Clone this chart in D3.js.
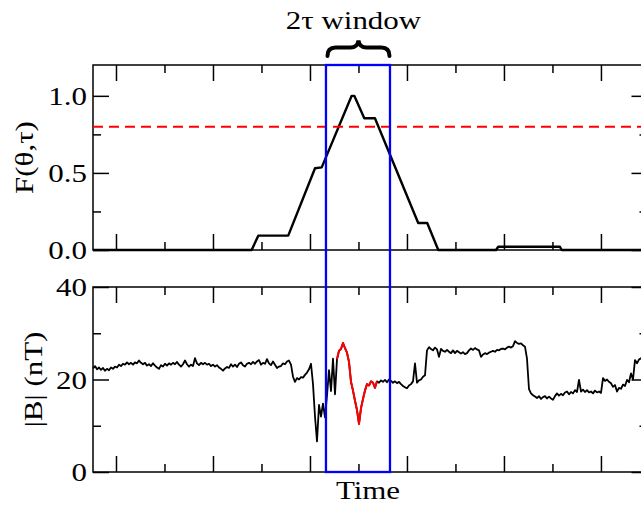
<!DOCTYPE html>
<html><head><meta charset="utf-8">
<script src="https://cdn.jsdelivr.net/npm/d3@7"></script>
<style>body{margin:0;background:#fff} svg{display:block}</style>
</head><body><svg id="c" width="641" height="507"></svg>
<script>
// ---------------- DATA ----------------
const timeDomain = [-0.237, 5.48];           // hours (arbitrary origin)
const timeTicks = [0, 1, 2, 3, 4, 5];
const timeMinorTicks = [0.5, 1.5, 2.5, 3.5, 4.5];

const fTicks = [0, 0.5, 1.0];
const fMinorTicks = [0.25, 0.75];
const fDomain = [0, 1.2];
const bTicks = [0, 20, 40];
const bMinorTicks = [10, 30];
const bDomain = [0, 40];

const fTime  = [-0.237, 1.399, 1.467, 1.776, 2.052, 2.121, 2.430, 2.457, 2.560, 2.670, 3.116, 3.209, 3.323, 3.918, 3.941, 4.577, 4.595, 5.48];
const fValue = [0, 0, 0.093, 0.093, 0.53, 0.536, 1.0, 1.0, 0.855, 0.855, 0.175, 0.175, 0, 0, 0.021, 0.021, 0, 0];

const threshold = 0.8;
const windowCenter = 2.495;
const tau = 0.33;
const redRange = [2.27, 2.70];

const bStart = -0.237;   // time of first |B| sample
const bStep = 0.02062;   // sampling interval
const bValue = [
 22.4,22.9,22.2,22.6,22.1,22.5,21.9,22.3,22.0,22.6,
 22.3,22.8,22.6,23.2,22.9,23.4,23.2,23.7,23.3,23.6,
 23.2,23.7,23.5,24.1,23.6,23.3,23.6,23.0,23.3,22.9,
 23.5,23.0,22.6,22.3,23.1,22.8,23.4,23.0,23.5,23.2,
 23.6,23.3,23.8,23.2,22.8,23.3,24.1,23.3,22.8,23.2,
 22.9,24.6,23.5,23.1,23.6,23.3,23.6,23.2,23.4,22.9,
 23.2,22.8,23.1,22.6,22.3,21.9,22.4,22.7,22.5,23.3,
 22.8,23.2,22.7,23.4,23.7,23.1,22.8,23.4,23.6,23.3,
 23.8,23.4,23.9,24.2,23.2,23.6,23.4,24.4,23.5,23.1,
 23.9,23.2,22.5,22.8,
 22.9,23.5,23.3,23.9,24.1,23.2,20.6,19.5,20.3,20.0,
 20.5,20.4,21.0,21.5,22.2,23.4,
 19.0,12.0,6.6,14.5,12.0,14.8,11.8,16.5,22.0,17.5,24.5,16.8,24.4,
 26.2,26.6,27.9,26.8,25.8,23.8,19.5,17.6,15.4,13.4,10.4,
 13.8,15.8,17.6,19.0,18.7,19.6,19.3,18.2,19.6,
 19.3,19.8,19.5,19.9,19.4,20.0,19.7,19.3,19.6,19.2,
 19.5,19.0,18.6,18.3,18.1,18.7,19.0,19.6,23.5,19.3,
 19.8,20.0,20.6,20.9,26.3,27.0,26.6,26.3,26.9,26.5,
 24.9,26.6,26.2,26.0,26.4,26.0,25.7,26.3,25.7,26.2,
 25.9,25.6,25.9,25.5,25.7,26.3,26.7,26.4,26.8,26.5,
 26.3,24.9,25.4,25.7,25.5,25.8,26.0,26.2,26.0,26.4,
 26.3,26.6,26.7,26.5,26.9,27.1,26.9,27.2,28.3,27.9,
 27.7,27.8,27.4,27.1,
 24.5,17.9,17.0,16.6,16.3,16.0,
 16.4,15.8,16.2,16.4,15.9,16.3,15.9,15.6,16.4,17.0,
 16.5,16.9,16.6,17.2,17.4,16.8,17.3,17.0,17.7,17.3,
 19.9,17.4,17.8,17.3,17.7,17.2,17.4,17.0,17.6,17.2,
 17.4,17.1,
 20.3,19.7,20.0,19.5,19.2,18.4,18.8,17.4,
 18.2,18.0,18.9,18.6,19.9,19.4,21.3,20.0,24.2,23.5,
 24.3,24.6,24.0,24.4,24.2
];

const labels = { title: "2\u03c4 window", fAxis: "F(\u03b8,\u03c4)", bAxis: "|B| (nT)", xAxis: "Time" };

// ---------------- CHART ----------------
const svg = d3.select("#c");
const FONT = "'Liberation Serif','Times New Roman',Times,serif";
const FS = 26, SX = 1.19;
const L = 93, R = 647.5;
const top1 = 65, bot1 = 250, top2 = 287, bot2 = 472;

const x = d3.scaleLinear().domain(timeDomain).range([L, R]);
const yF = d3.scaleLinear().domain(fDomain).range([bot1, top1]);
const yB = d3.scaleLinear().domain(bDomain).range([bot2, top2]);

const bData = bValue.map((v, i) => ({ t: bStart + i * bStep, v }));

function frame(yTop, yBot, yScale, ticks, minor, fmt) {
  const g = svg.append("g");
  const mk = (axis, tx, ty) => {
    const a = g.append("g").attr("transform", `translate(${tx},${ty})`).call(axis);
    a.select(".domain").remove();
    a.selectAll(".tick line").attr("stroke", "#000").attr("stroke-width", 1.5);
    return a;
  };
  mk(d3.axisBottom(x).tickValues(timeTicks).tickSize(-16).tickFormat(""), 0, yBot);
  mk(d3.axisBottom(x).tickValues(timeMinorTicks).tickSize(-8).tickFormat(""), 0, yBot);
  mk(d3.axisTop(x).tickValues(timeTicks).tickSize(-16).tickFormat(""), 0, yTop);
  mk(d3.axisTop(x).tickValues(timeMinorTicks).tickSize(-8).tickFormat(""), 0, yTop);
  mk(d3.axisRight(yScale).tickValues(ticks).tickSize(-16).tickFormat(""), R, 0);
  mk(d3.axisRight(yScale).tickValues(minor).tickSize(-8).tickFormat(""), R, 0);
  mk(d3.axisLeft(yScale).tickValues(minor).tickSize(-8).tickFormat(""), L, 0);
  const la = mk(d3.axisLeft(yScale).tickValues(ticks).tickSize(-16).tickPadding(6).tickFormat(fmt), L, 0);
  la.selectAll(".tick text")
    .attr("font-family", FONT).attr("font-size", FS).attr("fill", "#000")
    .attr("x", -6 / SX).attr("dy", "0.34em")
    .attr("transform", `scale(${SX},1)`);
  g.append("rect").attr("x", L).attr("y", yTop).attr("width", R - L).attr("height", yBot - yTop)
    .attr("fill", "none").attr("stroke", "#000").attr("stroke-width", 1.5);
}

frame(top1, bot1, yF, fTicks, fMinorTicks, d3.format(".1f"));
frame(top2, bot2, yB, bTicks, bMinorTicks, d3.format("d"));

// bottom: |B|
const lineB = d3.line().x(d => x(d.t)).y(d => yB(d.v));
svg.append("path").datum(bData).attr("d", lineB)
  .attr("fill", "none").attr("stroke", "#000").attr("stroke-width", 1.8).attr("stroke-linejoin", "round");
svg.append("path").datum(bData.filter(d => d.t >= redRange[0] && d.t <= redRange[1])).attr("d", lineB)
  .attr("fill", "none").attr("stroke", "#ff0000").attr("stroke-width", 2).attr("stroke-linejoin", "round");

// top: F
const fData = fTime.map((t, i) => ({ t, v: fValue[i] }));
svg.append("path").datum(fData)
  .attr("d", d3.line().x(d => x(d.t)).y(d => yF(d.v)))
  .attr("fill", "none").attr("stroke", "#000").attr("stroke-width", 2.4).attr("stroke-linejoin", "round");

svg.append("line").attr("x1", L).attr("x2", R).attr("y1", yF(threshold)).attr("y2", yF(threshold))
  .attr("stroke", "#ff0000").attr("stroke-width", 2).attr("stroke-dasharray", "10,6");

// window rectangle
const wx0 = x(windowCenter - tau), wx1 = x(windowCenter + tau);
svg.append("rect").attr("x", wx0).attr("y", top1).attr("width", wx1 - wx0).attr("height", bot2 - top1)
  .attr("fill", "none").attr("stroke", "#0000ff").attr("stroke-width", 2.3);

// brace
const bx0 = wx0 + 1.5, bx1 = wx1 - 0.5, bc = (bx0 + bx1) / 2;
svg.append("path")
  .attr("d", `M${bx0},56 Q${bx0},47.5 ${bx0 + 8},47.5 L${bc - 8},47.5 Q${bc - 1},47.5 ${bc},40.5 Q${bc + 1},47.5 ${bc + 8},47.5 L${bx1 - 8},47.5 Q${bx1},47.5 ${bx1},56`)
  .attr("fill", "none").attr("stroke", "#000").attr("stroke-width", 4).attr("stroke-linecap", "round");

// texts
function txt(s, tx, ty, rot) {
  svg.append("text").text(s)
    .attr("transform", `translate(${tx},${ty}) rotate(${rot}) scale(${SX},1)`)
    .attr("text-anchor", "middle").attr("font-family", FONT).attr("font-size", FS).attr("fill", "#000");
}
txt(labels.title, 353.5, 28.5, 0);
txt(labels.xAxis, 368, 499, 0);
txt(labels.fAxis, 32.5, (top1 + bot1) / 2, -90);
txt(labels.bAxis, 41.5, (top2 + bot2) / 2, -90);
</script></body></html>
